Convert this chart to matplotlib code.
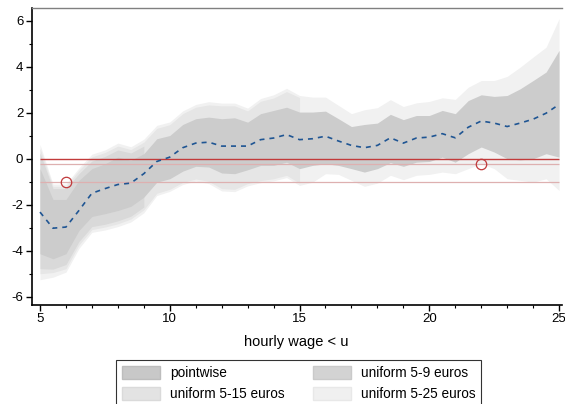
import numpy as np
import matplotlib
matplotlib.use('Agg')
import matplotlib.pyplot as plt
from matplotlib.patches import Patch
from matplotlib.ticker import MultipleLocator

plt.rcParams['font.family'] = ['Liberation Sans', 'DejaVu Sans']
plt.rcParams['axes.unicode_minus'] = False

# wage thresholds u (grid of 0.5 euro)
u = np.arange(5, 25.5, 0.5)

# estimated effect (dashed line)
est = [-2.32, -3.02, -2.97, -2.25, -1.50, -1.30, -1.12, -1.06, -0.65, -0.12,
       0.07, 0.48, 0.68, 0.72, 0.55, 0.55, 0.55, 0.83, 0.90, 1.05,
       0.83, 0.87, 0.98, 0.77, 0.58, 0.48, 0.58, 0.91, 0.68, 0.90,
       0.94, 1.09, 0.91, 1.37, 1.64, 1.55, 1.40, 1.55, 1.72, 1.98, 2.36]

# pointwise band
pw_hi = [-0.43, -1.77, -1.77, -0.94, -0.43, -0.22, 0.07, -0.07, 0.22, 0.87,
         1.01, 1.49, 1.74, 1.81, 1.74, 1.78, 1.59, 1.96, 2.10, 2.24,
         2.03, 2.03, 2.07, 1.74, 1.40, 1.49, 1.55, 1.93, 1.70, 1.88,
         1.88, 2.10, 1.96, 2.53, 2.78, 2.71, 2.75, 3.04, 3.40, 3.77, 4.71]
pw_lo = [-4.13, -4.35, -4.13, -3.12, -2.51, -2.39, -2.25, -2.07, -1.67, -1.02,
         -0.87, -0.54, -0.33, -0.36, -0.62, -0.65, -0.48, -0.29, -0.29, -0.15,
         -0.43, -0.29, -0.22, -0.29, -0.43, -0.58, -0.43, -0.17, -0.33, -0.15,
         -0.12, 0.07, -0.15, 0.22, 0.51, 0.29, 0.00, -0.05, 0.00, 0.22, 0.07]

# uniform band 5-25 euros
u25_hi = [0.62, -1.10, -1.10, -0.40, 0.20, 0.38, 0.68, 0.52, 0.85, 1.45,
          1.60, 2.08, 2.36, 2.48, 2.42, 2.42, 2.20, 2.62, 2.78, 3.06,
          2.75, 2.68, 2.68, 2.32, 1.96, 2.13, 2.22, 2.57, 2.27, 2.43,
          2.49, 2.65, 2.58, 3.11, 3.40, 3.40, 3.58, 3.98, 4.42, 4.85, 6.09]
u25_lo = [-5.26, -5.15, -4.93, -3.90, -3.20, -3.10, -2.95, -2.75, -2.35, -1.60,
          -1.42, -1.12, -0.97, -1.08, -1.40, -1.43, -1.18, -1.04, -0.96, -0.82,
          -1.16, -1.02, -0.65, -0.68, -0.94, -1.20, -1.06, -0.72, -0.91, -0.72,
          -0.68, -0.58, -0.65, -0.43, -0.22, -0.43, -0.87, -0.94, -1.02, -0.87, -1.38]

# uniform band 5-15 euros
u15_hi = [0.45, -1.20, -1.20, -0.50, 0.08, 0.27, 0.55, 0.40, 0.72, 1.32,
          1.48, 1.96, 2.24, 2.34, 2.30, 2.30, 2.08, 2.50, 2.64, 2.92, 2.66]
u15_lo = [-5.00, -4.95, -4.78, -3.75, -3.08, -2.97, -2.83, -2.62, -2.22, -1.50,
          -1.33, -1.03, -0.88, -0.98, -1.30, -1.33, -1.08, -0.95, -0.87, -0.72, -1.06]

# uniform band 5-9 euros
u9_hi = [0.25, -1.30, -1.30, -0.65, -0.10, 0.10, 0.38, 0.25, 0.55]
u9_lo = [-4.78, -4.80, -4.60, -3.60, -2.95, -2.85, -2.70, -2.50, -2.10]

c_pw = '#cccccc'
c_9 = '#d9d9d9'
c_15 = '#e6e6e6'
c_25 = '#f1f1f1'

fig = plt.figure(figsize=(5.65, 4.04), dpi=100)
ax = fig.add_axes([0.0561, 0.245, 0.938, 0.7344])

ax.fill_between(u, u25_lo, u25_hi, color=c_25, lw=0)
ax.fill_between(u[:len(u15_hi)], u15_lo, u15_hi, color=c_15, lw=0)
ax.fill_between(u[:len(u9_hi)], u9_lo, u9_hi, color=c_9, lw=0)
ax.fill_between(u, pw_lo, pw_hi, color=c_pw, lw=0)

ax.hlines([-1, -0.22], 5, 25, color='#deb0b0', lw=0.9)
ax.hlines(0, 5, 25, color='#c23b3b', lw=1.0)
ax.plot(u, est, color='#1f5593', lw=1.2, ls=(0, (3, 3)))
ax.plot([6, 22], [-1, -0.22], 'o', mfc='none', mec='#c0393b', ms=7.5, mew=0.9)

ax.set_xlim(4.68, 25.1)
ax.set_ylim(-6.36, 6.54)
ax.xaxis.set_major_locator(MultipleLocator(5))
ax.xaxis.set_minor_locator(MultipleLocator(1))
ax.yaxis.set_major_locator(MultipleLocator(2))
ax.yaxis.set_minor_locator(MultipleLocator(1))
ax.tick_params(which='major', direction='out', length=4, width=1, labelsize=9.5, pad=2)
ax.tick_params(which='minor', direction='out', length=2.5, width=0.8)
ax.set_xlabel('hourly wage < u', fontsize=10.5, labelpad=7)

for s in ['left', 'bottom']:
    ax.spines[s].set_color('black')
    ax.spines[s].set_linewidth(1.2)
ax.spines['top'].set_color('#808080')
ax.spines['top'].set_linewidth(1.0)
ax.spines['right'].set_visible(False)

handles = [Patch(facecolor='#c8c8c8', edgecolor='#bdbdbd', label='pointwise'),
           Patch(facecolor='#e3e3e3', edgecolor='#dadada', label='uniform 5-15 euros'),
           Patch(facecolor='#d3d3d3', edgecolor='#cacaca', label='uniform 5-9 euros'),
           Patch(facecolor='#f0f0f0', edgecolor='#e8e8e8', label='uniform 5-25 euros')]
leg = fig.legend(handles=handles, ncol=2, loc='upper left',
                 bbox_to_anchor=(116 / 565, 1 - 360 / 404),
                 fontsize=9.8, frameon=True, fancybox=False,
                 edgecolor='black', handlelength=2.8, handleheight=1.1,
                 handletextpad=0.7, borderaxespad=0, borderpad=0.45,
                 labelspacing=0.5, columnspacing=2.1)
leg.get_frame().set_linewidth(0.8)

fig.savefig('out.png', dpi=100)
